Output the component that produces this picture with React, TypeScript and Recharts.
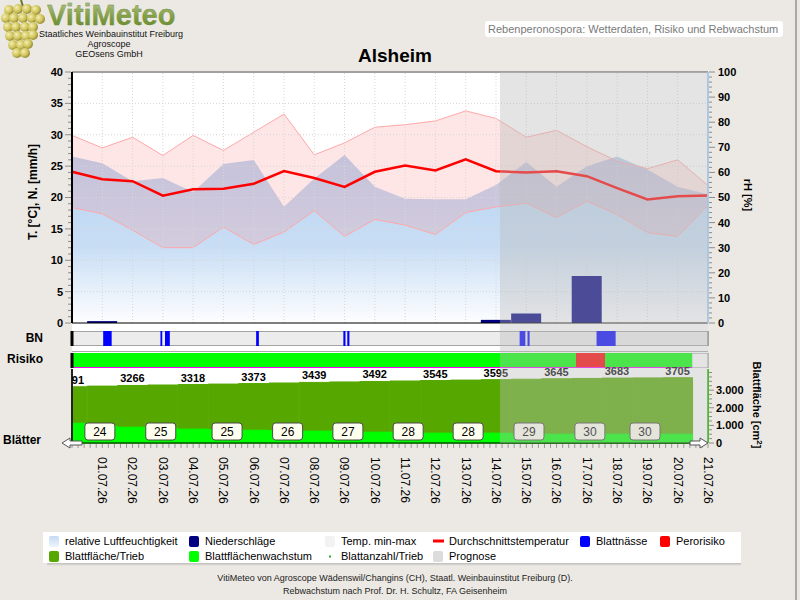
import React from 'react';
import {
  ComposedChart, Line, Area, Bar, XAxis, YAxis, ReferenceLine, ReferenceArea, LabelList, Scatter,
} from 'recharts';

const FONT = '"Liberation Sans", Arial, Helvetica, sans-serif';

// ---------- data ----------
const dayIndex = [0, 1, 2, 3, 4, 5, 6, 7, 8, 9, 10, 11, 12, 13, 14, 15, 16, 17, 18, 19, 20, 21];
const dateLabels = [
  '01.07.26', '02.07.26', '03.07.26', '04.07.26', '05.07.26', '06.07.26', '07.07.26',
  '08.07.26', '09.07.26', '10.07.26', '11.07.26', '12.07.26', '13.07.26', '14.07.26',
  '15.07.26', '16.07.26', '17.07.26', '18.07.26', '19.07.26', '20.07.26', '21.07.26',
];
const tempMean = [24.1, 22.9, 22.6, 20.3, 21.3, 21.4, 22.2, 24.2, 23.1, 21.7, 24.1, 25.1, 24.3, 26.1, 24.2, 24.0, 24.2, 23.4, 21.5, 19.7, 20.2, 20.3];
const tempMax = [29.9, 27.9, 29.6, 26.7, 29.9, 27.5, 30.4, 33.3, 26.8, 28.7, 31.2, 31.6, 32.2, 33.8, 32.6, 29.6, 30.7, 28.1, 25.8, 24.6, 26.0, 21.9];
const tempMin = [18.4, 17.4, 14.8, 12.0, 12.0, 15.3, 12.5, 14.5, 17.9, 13.8, 16.5, 15.6, 14.1, 17.6, 18.5, 19.1, 16.8, 19.4, 17.3, 14.4, 13.8, 18.8];
const humidity = [66.3, 63.6, 56.5, 57.8, 52.2, 63.3, 64.9, 46.3, 57.6, 66.9, 54.3, 49.5, 49.3, 49.3, 55.0, 64.1, 54.3, 62.5, 66.3, 61.2, 54.3, 51.3];
const precipitation = [0, 0.3, 0, 0, 0, 0, 0, 0, 0, 0, 0, 0, 0, 0, 0.5, 1.5, 0, 7.5, 0, 0, 0, 0];

const leafDays = [0, 1, 2, 3, 4, 5, 6, 7, 8, 9, 10, 11, 12, 13, 14, 15, 16, 17, 18, 19, 20];
const leafArea = [3191, 3229, 3266, 3292, 3318, 3345, 3373, 3406, 3439, 3466, 3492, 3519, 3545, 3570, 3595, 3620, 3645, 3664, 3683, 3694, 3705];
const leafGrowth = [40, 34, 32, 30, 28, 27, 26, 25, 24, 24, 22, 22, 20, 20, 20, 18, 18, 18, 18, 18, 18];
const leafCountDays = [0.92, 2.93, 5.12, 7.12, 9.11, 11.1, 13.08, 15.09, 17.1, 18.92];
const leafCounts = [24, 25, 25, 26, 27, 28, 28, 29, 30, 30];

const wetStart = [1.03, 2.92, 3.07, 6.08, 8.96, 9.09, 14.78, 15.04, 17.32];
const wetEnd = [1.31, 2.98, 3.23, 6.17, 9.03, 9.16, 14.97, 15.11, 17.95];

const riskStart = [0, 16.64, 17.6];
const riskEnd = [16.64, 17.6, 20.48];
const riskLevel = ['low', 'high', 'low'];

const forecastStart = 14.13;

const tempMajorTicks = [0, 5, 10, 15, 20, 25, 30, 35, 40];
const rhMajorTicks = [0, 10, 20, 30, 40, 50, 60, 70, 80, 90, 100];
const leafMajorTicks = [0, 1000, 2000, 3000];

// ---------- derived tables ----------
const mainData = dayIndex.map((d, i) => ({
  day: d,
  tMean: tempMean[i],
  tRange: [tempMin[i], tempMax[i]],
  rh: humidity[i],
  rain: precipitation[i],
}));
const leafData = leafDays.map((d, i) => ({ day: d, leaf: leafArea[i], growth: leafGrowth[i] }));
const countData = leafCountDays.map((d, i) => ({ day: d, base: 0, count: leafCounts[i] }));
const xDomain: [number, number] = [dayIndex[0], dayIndex[dayIndex.length - 1]];
const domainData = [{ day: xDomain[0], v: 0 }, { day: xDomain[1], v: 1 }];

const range = (a: number, b: number, s: number) => {
  const out: number[] = [];
  for (let v = a; v <= b + 1e-9; v += s) out.push(Math.round(v * 1000) / 1000);
  return out;
};
const tempMinorTicks = range(0, 40, 1);
const rhMinorTicks = range(0, 100, 2);
const leafMinorTicks = range(0, 4000, 250);
const dayMinorTicks = range(0, 21, 0.2);

const riskColor: Record<string, string> = { low: '#00ff00', high: '#ff0000' };

// ---------- ticks ----------
const LeftTick = (p: any) => {
  const { x, y, payload } = p;
  const v = payload.value;
  const major = tempMajorTicks.includes(v);
  return (
    <g>
      <line x1={x - (major ? 7 : 4)} x2={x - 1} y1={y} y2={y} stroke="#8c8c8c" strokeWidth={1} />
      {major && (
        <text x={x - 9} y={y} dy="0.36em" textAnchor="end" fontSize={11} fontWeight="bold" fill="#000">{v}</text>
      )}
    </g>
  );
};
const RhTick = (p: any) => {
  const { x, y, payload } = p;
  const v = payload.value;
  const major = rhMajorTicks.includes(v);
  return (
    <g>
      <line x1={x + 1} x2={x + (major ? 7 : 4)} y1={y} y2={y} stroke="#8c8c8c" strokeWidth={1} />
      {major && (
        <text x={x + 10} y={y} dy="0.36em" textAnchor="start" fontSize={11} fontWeight="bold" fill="#000">{v}</text>
      )}
    </g>
  );
};
const fmtThousands = (v: number) =>
  v >= 1000 ? `${Math.floor(v / 1000)}.${String(v % 1000).padStart(3, '0')}` : String(v);
const LeafTick = (p: any) => {
  const { x, y, payload } = p;
  const v = payload.value;
  const major = leafMajorTicks.includes(v);
  return (
    <g>
      <line x1={x + 1} x2={x + (major ? 6 : 4)} y1={y} y2={y} stroke="#8c8c8c" strokeWidth={1} />
      {major && (
        <text x={x + 8} y={y} dy="0.36em" textAnchor="start" fontSize={11} fontWeight="bold" fill="#000">{fmtThousands(v)}</text>
      )}
    </g>
  );
};
const DateTick = (p: any) => {
  const { x, y, payload } = p;
  const v = payload.value;
  const isDay = Math.abs(v - Math.round(v)) < 1e-6;
  const idx = Math.round(v) - 1;
  return (
    <g>
      <line x1={x} x2={x} y1={y + 1} y2={y + 5} stroke="#9a9a9a" strokeWidth={1} />
      {isDay && idx >= 0 && (
        <text transform={`translate(${x},${y + 14}) rotate(90)`} x={0} y={0} dy="0.35em" textAnchor="start" fontSize={12} fill="#000">
          {dateLabels[idx]}
        </text>
      )}
    </g>
  );
};

const LeafLabel = (p: any) => {
  const { x, y, width, value, index } = p;
  if (index % 2 !== 0) return null;
  return (
    <text x={x + width / 2} y={y - 3} textAnchor="middle" fontSize={11} fontWeight="bold" fill="#000" clipPath="url(#leafClip)">
      {value}
    </text>
  );
};

const CountBox = (p: any) => {
  const { cx, cy, payload } = p;
  return (
    <g>
      <rect x={cx - 15} y={cy - 20} width={30} height={17} rx={3} ry={3} fill="#fffff0" stroke="#4a4a4a" strokeWidth={1} />
      <text x={cx} y={cy - 11.5} dy="0.36em" textAnchor="middle" fontSize={12} fill="#000">{payload.count}</text>
    </g>
  );
};

// ---------- charts ----------
const gridStyle = { stroke: '#d6d6d6', strokeDasharray: '1 2', strokeWidth: 1 };

const MainChart = () => (
  <ComposedChart width={800} height={330} data={mainData} margin={{ top: 72, right: 52, bottom: 7, left: 32 }} barGap={0} barCategoryGap={0}>
    <defs>
      <linearGradient id="rhGrad" x1="0" y1="0" x2="0" y2="1">
        <stop offset="0" stopColor="#b6d3f1" />
        <stop offset="0.55" stopColor="#c9def5" />
        <stop offset="1" stopColor="#fdfeff" />
      </linearGradient>
    </defs>
    <XAxis dataKey="day" type="number" domain={xDomain} ticks={dayIndex} hide height={0} />
    <YAxis yAxisId="t" domain={[0, 40]} ticks={tempMinorTicks} interval={0} tick={(p: any) => <LeftTick {...p} />}
      tickLine={false} tickSize={0} tickMargin={0} axisLine={{ stroke: '#000', strokeWidth: 2 }} width={40} />
    <YAxis yAxisId="rh" orientation="right" domain={[0, 100]} ticks={rhMinorTicks} interval={0} tick={(p: any) => <RhTick {...p} />}
      tickLine={false} tickSize={0} tickMargin={0} axisLine={{ stroke: '#a9cbeb', strokeWidth: 2 }} width={40} />
    <Area yAxisId="rh" dataKey="rh" type="linear" fill="url(#rhGrad)" fillOpacity={1} stroke="none" isAnimationActive={false} />
    <Area yAxisId="t" dataKey="tRange" type="linear" fill="#ff8080" fillOpacity={0.2} stroke="#ffa8a8" strokeWidth={1} isAnimationActive={false} />
    {tempMajorTicks.slice(1, -1).map((v) => (
      <ReferenceLine key={`h${v}`} yAxisId="t" y={v} {...gridStyle} zIndex={150} />
    ))}
    {dayIndex.slice(1, -1).map((d) => (
      <ReferenceLine key={`v${d}`} yAxisId="t" x={d} {...gridStyle} zIndex={150} />
    ))}
    <Bar yAxisId="t" dataKey="rain" fill="#000080" barSize={30} isAnimationActive={false} />
    <Line yAxisId="t" dataKey="tMean" type="linear" stroke="#ff0000" strokeWidth={2.5} dot={false} isAnimationActive={false} />
    <ReferenceLine yAxisId="t" y={0} stroke="#000" strokeWidth={1} />
    <ReferenceLine yAxisId="t" y={40} stroke="#a0a0a0" strokeWidth={2} />
  </ComposedChart>
);

const Anchor = () => <Line dataKey="v" stroke="none" dot={false} activeDot={false} isAnimationActive={false} />;

const WetnessChart = () => (
  <ComposedChart width={800} height={15} data={domainData} margin={{ top: 0, right: 92, bottom: 0, left: 72 }}>
    <XAxis dataKey="day" type="number" domain={xDomain} hide height={0} />
    <YAxis domain={[0, 1]} hide width={0} />
    {Anchor()}
    <ReferenceArea x1={xDomain[0]} x2={xDomain[1]} fill="#ececec" fillOpacity={1} stroke="#8a8a8a" strokeWidth={1.5} />
    {wetStart.map((s, i) => (
      <ReferenceArea key={i} x1={s} x2={wetEnd[i]} fill="#0000ff" fillOpacity={1} stroke="none" />
    ))}
    <ReferenceLine x={xDomain[0]} stroke="#000" strokeWidth={3} />
  </ComposedChart>
);

const RiskChart = () => (
  <ComposedChart width={800} height={15} data={domainData} margin={{ top: 0, right: 92, bottom: 0, left: 72 }}>
    <XAxis dataKey="day" type="number" domain={xDomain} hide height={0} />
    <YAxis domain={[0, 1]} hide width={0} />
    {Anchor()}
    <ReferenceArea x1={xDomain[0]} x2={xDomain[1]} fill="#ffffff" fillOpacity={1} stroke="#8a8a8a" strokeWidth={1} />
    {riskStart.map((s, i) => (
      <ReferenceArea key={i} x1={s} x2={riskEnd[i]} fill={riskColor[riskLevel[i]]} fillOpacity={1} stroke="none" />
    ))}
    <ReferenceLine segment={[{ x: riskStart[0], y: 0 }, { x: riskEnd[riskEnd.length - 1], y: 0 }]} stroke="#ff00ff" strokeWidth={2} />
    <ReferenceLine x={xDomain[0]} stroke="#000" strokeWidth={3} />
  </ComposedChart>
);

const LeafChart = () => (
  <ComposedChart width={800} height={164} data={leafData} margin={{ top: 14, right: 52, bottom: 6, left: 72 }} barGap={0} barCategoryGap={0}>
    <defs>
      <clipPath id="leafClip">
        <rect x={72} y={-50} width={636} height={300} />
      </clipPath>
    </defs>
    <XAxis xAxisId="t" dataKey="day" type="number" domain={xDomain} ticks={dayMinorTicks} interval={0}
      tick={(p: any) => <DateTick {...p} />} tickLine={false} tickSize={0} tickMargin={0} axisLine={{ stroke: '#000', strokeWidth: 1 }} height={70} />
    <XAxis xAxisId="a" dataKey="day" type="number" domain={xDomain} ticks={dayIndex} hide height={0} allowDataOverflow />
    <XAxis xAxisId="b" dataKey="day" type="number" domain={xDomain} ticks={dayIndex} hide height={0} allowDataOverflow />
    <XAxis xAxisId="c" dataKey="day" type="number" domain={xDomain} hide height={0} />
    <YAxis yAxisId="leaf" orientation="right" domain={[0, 4200]} ticks={leafMinorTicks} interval={0} tick={(p: any) => <LeafTick {...p} />}
      tickLine={false} tickSize={0} tickMargin={0} axisLine={{ stroke: '#4cbb2a', strokeWidth: 2 }} width={40} />
    <YAxis yAxisId="g" domain={[0, 150]} hide width={0} />
    <Bar xAxisId="a" yAxisId="leaf" dataKey="leaf" fill="#56a800" stroke="#56a800" strokeWidth={1} barSize={30} isAnimationActive={false}>
      <LabelList dataKey="leaf" content={(p: any) => <LeafLabel {...p} />} />
    </Bar>
    <Bar xAxisId="b" yAxisId="g" dataKey="growth" fill="#00ff00" stroke="#00ff00" strokeWidth={1} barSize={30} isAnimationActive={false} />
    <ReferenceLine xAxisId="a" yAxisId="leaf" x={xDomain[0]} stroke="#222" strokeWidth={2} />
    <Scatter xAxisId="c" yAxisId="leaf" data={countData} dataKey="base" shape={(p: any) => <CountBox {...p} />} isAnimationActive={false} />
  </ComposedChart>
);

const ForecastOverlay = () => (
  <ComposedChart width={800} height={371} data={domainData} margin={{ top: 0, right: 92, bottom: 0, left: 72 }}>
    <XAxis dataKey="day" type="number" domain={xDomain} hide height={0} />
    <YAxis domain={[0, 1]} hide width={0} />
    {Anchor()}
    <ReferenceArea x1={forecastStart} x2={xDomain[1]} fill="#bcbcbc" fillOpacity={0.4} stroke="none" />
  </ComposedChart>
);

// ---------- static decoration ----------
const grapes: [number, number][] = [
  [9, 10], [18, 9], [27, 9], [36, 10],
  [6, 18], [14, 18], [23, 18], [32, 18], [40, 19],
  [8, 27], [16, 27], [25, 27], [33, 27],
  [10, 36], [18, 36], [26, 36], [33, 35],
  [13, 45], [21, 45], [28, 44],
  [17, 53], [25, 53],
];

const legendItems = [
  { label: 'relative Luftfeuchtigkeit', kind: 'rh', col: 0, row: 0 },
  { label: 'Niederschläge', color: '#000080', col: 1, row: 0 },
  { label: 'Temp. min-max', color: '#f2f2f2', col: 2, row: 0 },
  { label: 'Durchschnittstemperatur', kind: 'line', color: '#ff0000', col: 3, row: 0 },
  { label: 'Blattnässe', color: '#0000ff', col: 4, row: 0 },
  { label: 'Perorisiko', color: '#ff0000', col: 5, row: 0 },
  { label: 'Blattfläche/Trieb', color: '#56a800', col: 0, row: 1 },
  { label: 'Blattflächenwachstum', color: '#00ff00', col: 1, row: 1 },
  { label: 'Blattanzahl/Trieb', kind: 'dot', color: '#33aa33', col: 2, row: 1 },
  { label: 'Prognose', color: '#dcdcdc', col: 3, row: 1 },
];
const legendColX = [49, 189, 325, 433, 580, 660];
const legendRowY = [541, 556];

const Backdrop = () => (
  <svg width={800} height={600} style={{ position: 'absolute', left: 0, top: 0 }}>
    <defs>
      <radialGradient id="grape" cx="0.35" cy="0.35" r="0.7">
        <stop offset="0" stopColor="#f4eeb0" />
        <stop offset="0.6" stopColor="#cfc35a" />
        <stop offset="1" stopColor="#8f8630" />
      </radialGradient>
      <linearGradient id="logoGrad" x1="0" y1="0" x2="0" y2="1">
        <stop offset="0" stopColor="#b9c994" />
        <stop offset="0.5" stopColor="#86a24a" />
        <stop offset="1" stopColor="#5f8522" />
      </linearGradient>
      <linearGradient id="rhIcon" x1="0" y1="0" x2="0" y2="1">
        <stop offset="0" stopColor="#c4daf4" />
        <stop offset="1" stopColor="#eef4fb" />
      </linearGradient>
      <linearGradient id="shadow" x1="0" y1="0" x2="0" y2="1">
        <stop offset="0" stopColor="#555" stopOpacity={0.8} />
        <stop offset="1" stopColor="#555" stopOpacity={0} />
      </linearGradient>
    </defs>
    <rect x={0} y={0} width={800} height={600} fill="#ece9e4" />
    <rect x={795} y={0} width={2} height={600} fill="#a8a8a8" />

    {/* logo */}
    <path d="M21 0 Q22 4 23 6" stroke="#6b7a2a" strokeWidth={2} fill="none" />
    {grapes.map(([cx, cy], i) => (
      <circle key={i} cx={cx} cy={cy} r={5} fill="url(#grape)" />
    ))}
    <text x={47} y={25} fontSize={29} fontWeight="bold" fill="url(#logoGrad)" stroke="#6f8a3a" strokeWidth={0.3}>VitiMeteo</text>
    <text x={111} y={37} fontSize={9} textAnchor="middle" fill="#111">Staatliches Weinbauinstitut Freiburg</text>
    <text x={109} y={47} fontSize={9} textAnchor="middle" fill="#111">Agroscope</text>
    <text x={109} y={57} fontSize={9} textAnchor="middle" fill="#111">GEOsens GmbH</text>

    {/* header */}
    <rect x={485} y={21} width={298} height={16} rx={3} fill="#ffffff" />
    <text x={488} y={33} fontSize={11} fill="#7a7a7a">Rebenperonospora: Wetterdaten, Risiko und Rebwachstum</text>
    <text x={395} y={62} fontSize={19} fontWeight="bold" textAnchor="middle" fill="#000">Alsheim</text>

    {/* plotting surface */}
    <rect x={72} y={72} width={636} height={371} fill="#ffffff" />
    <line x1={72} x2={708} y1={351.5} y2={351.5} stroke="#aaaaaa" strokeWidth={1} />

    {/* axis titles */}
    <text transform="translate(37,192) rotate(-90)" fontSize={12} fontWeight="bold" textAnchor="middle" fill="#000">T. [°C], N. [mm/h]</text>
    <text transform="translate(744,195) rotate(90)" fontSize={11} fontWeight="bold" textAnchor="middle" fill="#000">rH [%]</text>
    <text transform="translate(753,405) rotate(90)" fontSize={11} fontWeight="bold" textAnchor="middle" fill="#000">
      Blattfläche [cm<tspan dy={-4} fontSize={8}>2</tspan><tspan dy={4}>]</tspan>
    </text>
    <text x={43} y={342} fontSize={12} fontWeight="bold" textAnchor="end" fill="#000">BN</text>
    <text x={43} y={363} fontSize={12} fontWeight="bold" textAnchor="end" fill="#000">Risiko</text>
    <text x={3} y={444} fontSize={12} fontWeight="bold" fill="#000">Blätter</text>

    {/* legend */}
    <rect x={47} y={558} width={694} height={8} fill="url(#shadow)" />
    <rect x={43} y={532} width={698} height={31} fill="#ffffff" />
    {legendItems.map((it, i) => {
      const x = legendColX[it.col];
      const y = legendRowY[it.row];
      let icon;
      if (it.kind === 'line') icon = <rect x={x} y={y - 1.5} width={11} height={3} fill={it.color} />;
      else if (it.kind === 'dot') icon = <rect x={x + 4} y={y - 0.5} width={2} height={2} fill={it.color} />;
      else if (it.kind === 'rh') icon = <rect x={x} y={y - 5} width={10} height={11} rx={2} fill="url(#rhIcon)" />;
      else icon = <rect x={x} y={y - 5} width={10} height={11} rx={2} fill={it.color} />;
      return (
        <g key={i}>
          {icon}
          <text x={x + 16} y={y} dy="0.35em" fontSize={11} fill="#000">{it.label}</text>
        </g>
      );
    })}

    {/* footer */}
    <text x={395} y={581} fontSize={9} textAnchor="middle" fill="#222">VitiMeteo von Agroscope Wädenswil/Changins (CH), Staatl. Weinbauinstitut Freiburg (D).</text>
    <text x={395} y={594} fontSize={9} textAnchor="middle" fill="#222">Rebwachstum nach Prof. Dr. H. Schultz, FA Geisenheim</text>
  </svg>
);

const Foreground = () => (
  <svg width={800} height={600} style={{ position: 'absolute', left: 0, top: 0, pointerEvents: 'none' }}>
    <polygon points="62,443 70,438 70,441 82,441 82,445 70,445 70,448" fill="#ffffff" stroke="#555" strokeWidth={1} />
    <polygon points="708,443 700,438 700,441 690,441 690,445 700,445 700,448" fill="#ffffff" stroke="#555" strokeWidth={1} />
  </svg>
);

export default function App() {
  return (
    <div style={{ position: 'absolute', left: 0, top: 0, width: 800, height: 600, overflow: 'hidden', fontFamily: FONT, background: '#ece9e4' }}>
      <Backdrop />
      <div style={{ position: 'absolute', left: 0, top: 0 }}><MainChart /></div>
      <div style={{ position: 'absolute', left: 0, top: 331 }}><WetnessChart /></div>
      <div style={{ position: 'absolute', left: 0, top: 353 }}><RiskChart /></div>
      <div style={{ position: 'absolute', left: 0, top: 355 }}><LeafChart /></div>
      <div style={{ position: 'absolute', left: 0, top: 72 }}><ForecastOverlay /></div>
      <Foreground />
    </div>
  );
}
